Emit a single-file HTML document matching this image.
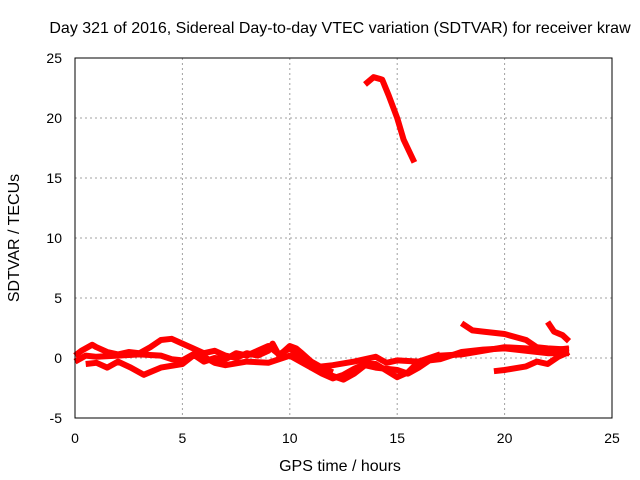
<!DOCTYPE html>
<html><head><meta charset="utf-8"><style>
body{margin:0;background:#fff;}
svg{display:block;font-family:"Liberation Sans",sans-serif;}
</style></head><body>
<svg id="chart" width="640" height="480" viewBox="0 0 640 480">
<rect width="640" height="480" fill="#fff"/>
<text x="340" y="33" font-size="16" text-anchor="middle" fill="#000">Day 321 of 2016, Sidereal Day-to-day VTEC variation (SDTVAR) for receiver kraw</text>
<text x="340" y="471" font-size="16" text-anchor="middle" fill="#000">GPS time / hours</text>
<text transform="translate(19,238) rotate(-90)" font-size="16" text-anchor="middle" fill="#000">SDTVAR / TECUs</text>
<g id="grid"></g><g id="ticks"></g><g id="series"></g>
<rect x="75" y="58" width="537" height="360" fill="none" stroke="#000" stroke-width="1"/>
</svg>
<script>
const xTicks=[0,5,10,15,20,25];
const yTicks=[-5,0,5,10,15,20,25];
const sTop=[[13.5,22.8],[13.7,23.1],[13.9,23.4],[14.3,23.2],[14.6,21.9],[15.0,20.0],[15.3,18.2],[15.8,16.3]];
const s1=[[0,0.2],[0.3,0.6],[0.5,0.8],[0.8,1.1],[1,0.9],[1.5,0.5],[2,0.3],[2.5,0.5],[3,0.4],[3.5,0.9],[4,1.5],[4.5,1.6],[5,1.2],[5.5,0.8],[6,0.4],[6.5,0.6],[7,0.2],[7.5,0.0],[8,0.4],[8.5,0.2],[9,0.6],[9.2,1.2],[9.5,0.2],[10,1.0],[10.3,0.8],[10.5,0.5],[11,-0.3],[11.5,-0.8],[12,-1.2]];
const s2=[[0,-0.3],[0.5,0.2],[1,0.1],[2,0.2],[3,0.3],[4,0.2],[4.5,-0.1],[5,-0.2],[5.5,0.3],[6,-0.3],[6.5,0.0],[7,-0.1],[7.5,0.4],[8,0.2],[8.5,0.6],[9,1.0],[9.5,0.3],[10,0.8],[11,-0.5],[12,-1.5],[12.5,-1.8],[13,-1.3],[13.5,-0.6],[14,-0.8],[15,-1.0],[15.5,-1.3],[16,-0.8],[16.5,-0.2],[17,-0.1],[18,0.5],[19,0.7],[20,0.8],[21,0.6],[22,0.4],[23,0.4]];
const s3=[[0.5,-0.5],[1,-0.4],[1.5,-0.8],[2,-0.3],[2.6,-0.8],[3.2,-1.4],[4,-0.8],[5,-0.5],[5.5,0.2],[6,0.1],[6.5,-0.4],[7,-0.6],[8,-0.3],[9,-0.4],[10,0.2],[10.5,-0.3],[11,-0.8],[12,-0.6],[13,-0.3],[14,0.1],[14.5,-0.4],[15,-0.2],[16,-0.3],[17,0.2],[18,0.3],[19,0.6],[20,0.9],[21,0.8],[22,0.6],[23,0.8]];
const s4=[[18,2.9],[18.5,2.3],[19,2.2],[20,2.0],[21,1.5],[21.5,0.9],[22,0.8],[23,0.7]];
const s5=[[19.5,-1.1],[20,-1.0],[21,-0.7],[21.5,-0.3],[22,-0.5],[22.5,0.1],[23,0.5]];
const s6=[[22,3.0],[22.3,2.2],[22.7,1.9],[23,1.4]];
const s7=[[10.5,0.4],[11,-0.8],[11.5,-1.3],[12,-1.7],[12.5,-1.4],[13,-0.9],[13.5,-0.5],[14,-0.5],[15,-1.6],[15.5,-1.2],[16,-0.3],[17,0.3]];
const seriesList=[sTop,s1,s2,s3,s4,s5,s6,s7];
const NS="http://www.w3.org/2000/svg";
const X=h=>75+h*(537/25);
const Y=v=>358-v*12;
const grid=document.getElementById('grid'),ticks=document.getElementById('ticks'),ser=document.getElementById('series');
function mk(tag,attrs,parent){const e=document.createElementNS(NS,tag);for(const k in attrs)e.setAttribute(k,attrs[k]);parent.appendChild(e);return e;}
xTicks.forEach(t=>{
  const x=X(t);
  if(t>0&&t<25){const l=mk('line',{x1:x,x2:x,y1:58,y2:418,stroke:'#a0a0a0','stroke-dasharray':'2,3'},grid);
  
  }
  const tx=mk('text',{x:x,y:443,'font-size':14,'text-anchor':'middle',fill:'#000'},ticks);
  tx.textContent=t;
  
  
});
yTicks.forEach(t=>{
  const y=Y(t);
  if(t>-5&&t<25){const l=mk('line',{x1:75,x2:612,y1:y,y2:y,stroke:'#a0a0a0','stroke-dasharray':'2,3'},grid);
  
  }
  const tx=mk('text',{x:62,y:y+5,'font-size':14,'text-anchor':'end',fill:'#000'},ticks);
  tx.textContent=t;
  
  
});
seriesList.forEach(s=>{
  const d=s.map((p,i)=>(i?'L':'M')+X(p[0]).toFixed(1)+' '+Y(p[1]).toFixed(1)).join(' ');
  const p=mk('path',{d:d,fill:'none',stroke:'#ff0000','stroke-width':6,'stroke-linejoin':'round'},ser);
  
  
});
</script>
</body></html>
